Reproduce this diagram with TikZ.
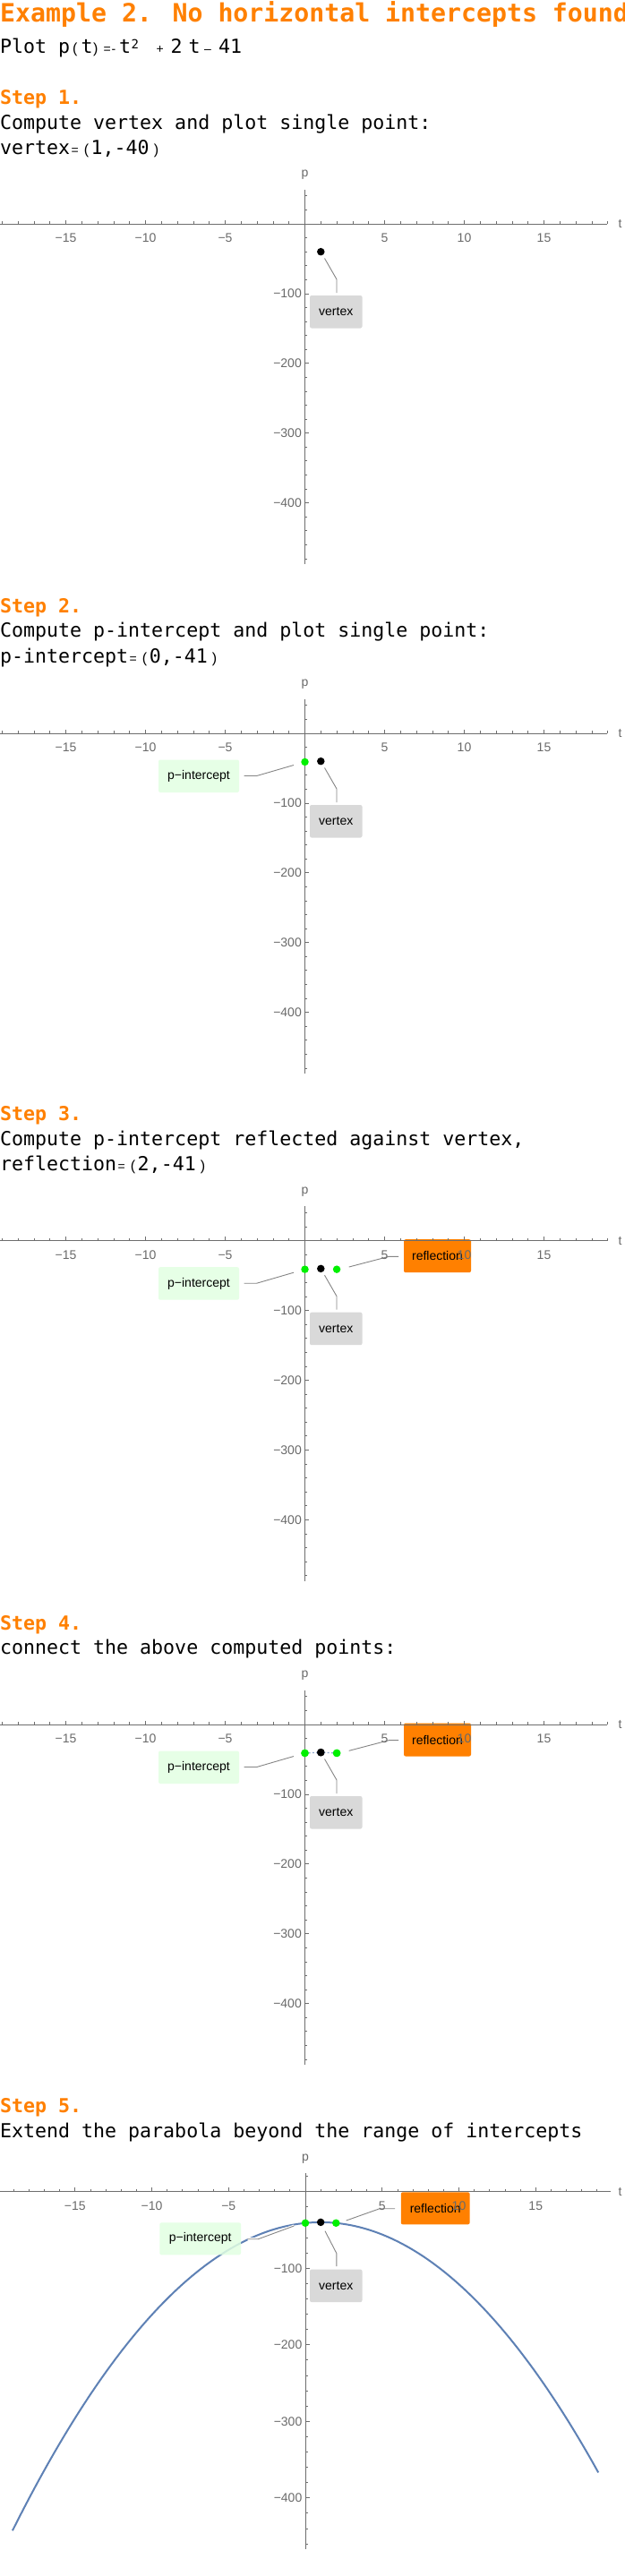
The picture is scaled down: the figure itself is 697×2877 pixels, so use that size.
\documentclass[tikz,border=0pt]{standalone}
\usepackage{fontspec}
\newfontfamily\mono{DejaVu Sans Mono}
\newfontfamily\sansf{Liberation Sans}
\definecolor{morange}{HTML}{FF8000}
\definecolor{axiscol}{HTML}{6E6E6E}
\definecolor{labcol}{HTML}{6A6A6A}
\definecolor{leadcol}{HTML}{858585}
\definecolor{vtxfill}{HTML}{D9D9D9}
\definecolor{pifill}{HTML}{E2FFE2}
\definecolor{ptgreen}{HTML}{00F000}
\definecolor{curveblue}{HTML}{5E81B5}
\newcommand\bodyfont{\mono\fontsize{21.6}{26}\selectfont}
\newcommand\titlefont{\mono\bfseries\fontsize{28.2}{34}\selectfont}
\newcommand\symS{\sansf\fontsize{14}{16}\selectfont}
\newcommand\parL{\sansf\fontsize{16}{18}\selectfont}
\newcommand\supF{\mono\fontsize{14}{16}\selectfont}
\newcommand\ticklabfont{\sansf\fontsize{14}{16}\selectfont}
\newcommand\boxfont{\sansf\fontsize{14}{16}\selectfont}
\newcommand\eqpair[2]{#1\hspace{1.5pt}{\symS =}\hspace{6pt}{\parL (}\hspace{2.5pt}#2\hspace{5pt}{\parL )}}
\newcommand\pc[2]{\rlap{\hspace*{#1pt}#2}}
\tikzset{
  axisline/.style={draw=axiscol, line width=0.75pt},
  ticklab/.style={font=\ticklabfont, text=labcol, inner sep=0pt},
  leader/.style={draw=leadcol, line width=0.9pt},
  halo/.style={preaction={draw=white, line width=3pt}},
  labbox/.style={rounded corners=2pt, inner sep=0pt, font=\boxfont, text=black},
  vbox/.style={labbox, fill=vtxfill, minimum width=58.5pt, minimum height=36.5pt},
  pibox/.style={labbox, fill=pifill, fill opacity=0.85, text opacity=1, minimum width=90pt, minimum height=36.5pt},
  rbox/.style={labbox, fill=morange, minimum width=75pt, minimum height=37pt},
  ptg/.style={circle, fill=ptgreen, inner sep=0pt, minimum size=8.5pt},
  ptb/.style={circle, fill=black, inner sep=0pt, minimum size=8.5pt},
  txt/.style={anchor=base west, inner sep=0pt, font=\bodyfont, text=black},
  head/.style={anchor=base west, inner sep=0pt, font=\bodyfont\bfseries, text=morange},
  curve/.style={draw=curveblue, line width=2pt},
  conn/.style={draw=curveblue!70, dash pattern=on 2pt off 2.2pt, line width=1.3pt},
}
% #1 A, #2 x0, #3 sx, #4 sy, #5 y top, #6 y bottom, #7 x right, #8 minor p ticks
\newcommand\plotaxes[8]{%
  \draw[axisline] (0,#1) -- (#7,#1);
  \draw[axisline] (#2,#5) -- (#2,#6);
  \foreach \ti in {-19,...,19}{\draw[axisline] ({#2+(\ti)*#3},#1) -- ++(0,-2.7);}
  \foreach \ti/\lab in {-15/−15,-10/−10,-5/−5,5/5,10/10,15/15}{%
    \draw[axisline] ({#2+(\ti)*#3},#1) -- ++(0,-4.5);
    \node[ticklab] at ({#2+(\ti)*#3},#1+16) {\lab};}
  \foreach \pv in {#8}{\draw[axisline] (#2,{#1-(\pv)*#4}) -- ++(2.7,0);}
  \foreach \pv/\lab in {-100/−100,-200/−200,-300/−300,-400/−400}{%
    \draw[axisline] (#2,{#1-(\pv)*#4}) -- ++(4.5,0);
    \node[ticklab,anchor=east] at (#2-3.5,{#1-(\pv)*#4}) {\lab};}
  \node[ticklab] at (#2,#5-16.5) {p};
  \node[ticklab] at (692.5,#1) {t};
}
\newcommand\stdaxes[1]{\plotaxes{#1}{340.5}{17.8}{0.779}{#1-38.3}{#1+380}{678.3}{40,20,...,-480}}
% labels for steps 1-4: #1 A, #2 suffix
\newcommand\vtxlab[2]{%
  \draw[leader] (362.5,#1+38.5) -- (376,#1+62) -- (376,#1+77);
  \node[vbox] (vtx#2) at (375.25,#1+98.25) {vertex};}
\newcommand\pilab[2]{%
  \draw[leader] (328,#1+35.5) -- (286.7,#1+47.5) -- (272.7,#1+47.5);
  \node[pibox] (pil#2) at (222,#1+47.75) {p−intercept};}
\newcommand\rlab[2]{%
  \draw[leader] (389.7,#1+29.3) -- (434.4,#1+17.6) -- (445,#1+17.6);
  \node[rbox] (rl#2) at (488.5,#1+17) {reflection};}
\begin{document}
\begin{tikzpicture}[x=1pt,y=-1pt]
\path[use as bounding box, fill=white] (0,0) rectangle (697,2877);
% ---------- header ----------
\node[anchor=base west, inner sep=0pt, font=\titlefont, text=morange] (title) at (0,25) {Example 2. No horizontal intercepts found};
\node[txt] (plotline) at (0,60) {\pc{0}{Plot p}\pc{81}{\parL (}\pc{90.5}{t}\pc{104}{\parL )}\pc{115.5}{\symS =}\pc{124.5}{\symS -}\pc{133}{t}\pc{146.5}{\raisebox{5pt}{\supF 2}}\pc{174.5}{\symS +}\pc{190.5}{2}\pc{210.5}{t}\pc{228}{\symS –}\pc{244}{41}\hspace*{270pt}};
% ---------- step 1 ----------
\node[head] (s1h) at (0,116.7) {Step 1.};
\node[txt] (s1a) at (0,144) {Compute vertex and plot single point:};
\node[txt] (s1b) at (0,172.7) {\eqpair{vertex}{1,-40}};
\vtxlab{250}{1}
\stdaxes{250}
\node[ptb] (v1) at (358.3,{250+40*0.779}) {};
% ---------- step 2 ----------
\node[head] (s2h) at (0,684) {Step 2.};
\node[txt] (s2a) at (0,711.7) {Compute p-intercept and plot single point:};
\node[txt] (s2b) at (0,740) {\eqpair{p-intercept}{0,-41}};
\vtxlab{819}{2}
\pilab{819}{2}
\stdaxes{819}
\node[ptg] (pi2) at (340.5,{819+41*0.779}) {};
\node[ptb] (v2) at (358.3,{819+40*0.779}) {};
% ---------- step 3 ----------
\node[head] (s3h) at (0,1251.7) {Step 3.};
\node[txt] (s3a) at (0,1279.3) {Compute p-intercept reflected against vertex,};
\node[txt] (s3b) at (0,1307.3) {\eqpair{reflection}{2,-41}};
\vtxlab{1385.7}{3}
\pilab{1385.7}{3}
\rlab{1385.7}{3}
\stdaxes{1385.7}
\node[ptg] (pi3) at (340.5,{1385.7+41*0.779}) {};
\node[ptb] (v3) at (358.3,{1385.7+40*0.779}) {};
\node[ptg] (r3) at (376.1,{1385.7+41*0.779}) {};
% ---------- step 4 ----------
\node[head] (s4h) at (0,1820) {Step 4.};
\node[txt] (s4a) at (0,1847.7) {connect the above computed points:};
\vtxlab{1926}{4}
\pilab{1926}{4}
\rlab{1926}{4}
\stdaxes{1926}
\node[ptg] (pi4) at (340.5,{1926+41*0.779}) {};
\node[ptb] (v4) at (358.3,{1926+40*0.779}) {};
\node[ptg] (r4) at (376.1,{1926+41*0.779}) {};
\begin{scope}[on background layer/.try]
\end{scope}
\draw[conn] (pi4.center) -- (v4.center) -- (r4.center);
\node[ptg] at (pi4) {};
\node[ptb] at (v4) {};
\node[ptg] at (r4) {};
% ---------- step 5 ----------
\node[head] (s5h) at (0,2359.3) {Step 5.};
\node[txt] (s5a) at (0,2387.3) {Extend the parabola beyond the range of intercepts};
\draw[curve] plot[domain=-19.07:19.08, samples=120, smooth] ({341+\x*17.15}, {2447.7+(\x*\x-2*\x+41)*0.855});
\draw[leader,halo] (363,2491.7) -- (375.9,2516.7) -- (375.9,2531);
\draw[leader,halo] (328.3,2486) -- (288.3,2500.7) -- (276.7,2500.7);
\draw[leader,halo] (386.6,2480) -- (424,2466.7) -- (441,2466.7);
\node[vbox] (vtx5) at (375.25,2552.85) {vertex};
\node[pibox, minimum width=90.7pt, minimum height=36pt] (pil5) at (223.65,2500.3) {p−intercept};
\node[rbox, minimum width=76.8pt, minimum height=36pt] (rl5) at (486.2,2466.3) {reflection};
\plotaxes{2447.7}{341}{17.15}{0.855}{2427.3}{2846.7}{681.7}{20,0,...,-460}
\node[ptg] (pi5) at (341,{2447.7+41*0.855}) {};
\node[ptb] (v5) at (358.15,{2447.7+40*0.855}) {};
\node[ptg] (r5) at (375.3,{2447.7+41*0.855}) {};
\end{tikzpicture}
\end{document}
